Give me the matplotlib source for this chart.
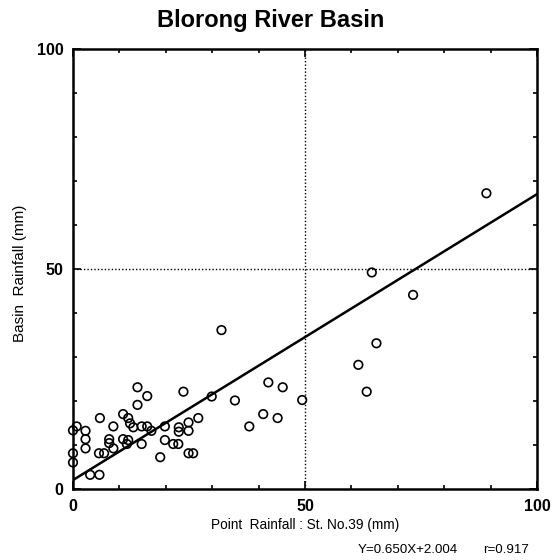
import matplotlib
matplotlib.use("Agg")
import matplotlib.pyplot as plt
import numpy as np

plt.rcParams['font.family'] = ['Liberation Sans', 'DejaVu Sans']

point_rain = [32.0, 13.9, 16.0, 13.9, 23.8, 34.9, 29.9, 5.8, 10.8, 11.9, 12.3, 13.0,
              14.8, 16.0, 16.9, 19.8, 8.7, 0.8, 0.0, 2.7, 2.7, 2.7, 7.8, 7.8, 8.7,
              10.8, 11.9, 11.6, 14.8, 5.6, 6.7, 0.0, 0.0, 3.7, 5.7, 18.8, 19.8, 21.6,
              22.7, 22.8, 22.8, 24.9, 24.9, 27.0, 24.9, 25.9, 38.0, 65.4, 61.5, 63.3,
              42.1, 45.2, 49.4, 41.0, 44.1, 89.1, 64.4, 73.3]
basin_rain = [36.1, 23.1, 21.1, 19.1, 22.1, 20.1, 21.0, 16.1, 17.0, 16.1, 14.9, 14.0,
              14.2, 14.2, 13.2, 14.2, 14.2, 14.2, 13.3, 13.2, 11.3, 9.2, 11.3, 10.4, 9.2,
              11.3, 11.1, 10.2, 10.2, 8.1, 8.1, 8.1, 6.0, 3.2, 3.2, 7.2, 11.1, 10.2,
              10.2, 14.0, 13.0, 15.1, 13.2, 16.1, 8.1, 8.1, 14.2, 33.1, 28.2, 22.1,
              24.2, 23.1, 20.2, 17.0, 16.1, 67.2, 49.2, 44.1]
slope, intercept, r_value = 0.650, 2.004, 0.917
major_ticks = [0, 50, 100]

fig = plt.figure(figsize=(5.53, 5.60), dpi=100)
ax = fig.add_axes([0.132, 0.127, 0.839, 0.7855])

ax.scatter(point_rain, basin_rain, s=38, facecolors='none', edgecolors='black',
           linewidths=1.2, zorder=3, clip_on=False)
xl = np.array([0, 100])
ax.plot(xl, slope * xl + intercept, color='black', lw=1.8, zorder=2)
ax.axvline(50, color='black', lw=1.0, ls=(0, (1, 1.5)), zorder=1)
ax.axhline(50, color='black', lw=1.0, ls=(0, (1, 1.5)), zorder=1)

ax.set_xlim(0, 100)
ax.set_ylim(0, 100)
ax.set_xticks(major_ticks)
ax.set_yticks(major_ticks)
ax.set_xticks(np.arange(0, 101, 10), minor=True)
ax.set_yticks(np.arange(0, 101, 10), minor=True)
ax.tick_params(which='both', direction='in', top=True, right=True, width=1.2)
ax.tick_params(which='major', length=6, labelsize=11.5, pad=7)
ax.tick_params(which='minor', length=3)
for lab in ax.get_xticklabels() + ax.get_yticklabels():
    lab.set_fontweight('bold')
for s in ax.spines.values():
    s.set_linewidth(1.8)

fig.text(271 / 553, 1 - 20 / 560, 'Blorong River Basin', fontsize=17,
         fontweight='bold', ha='center', va='center')
ax.set_xlabel('Point  Rainfall : St. No.39 (mm)', fontsize=9.8, labelpad=3)
fig.text(20 / 553, 1 - 273 / 560, 'Basin  Rainfall (mm)', fontsize=11,
         rotation=90, ha='center', va='center')
fig.text(458 / 553, 1 - 550 / 560, f'Y={slope:.3f}X+{intercept:.3f}',
         ha='right', va='center', fontsize=9.6)
fig.text(483 / 553, 1 - 550 / 560, f'r={r_value:.3f}',
         ha='left', va='center', fontsize=9.6)

fig.savefig('out.png', dpi=100)
